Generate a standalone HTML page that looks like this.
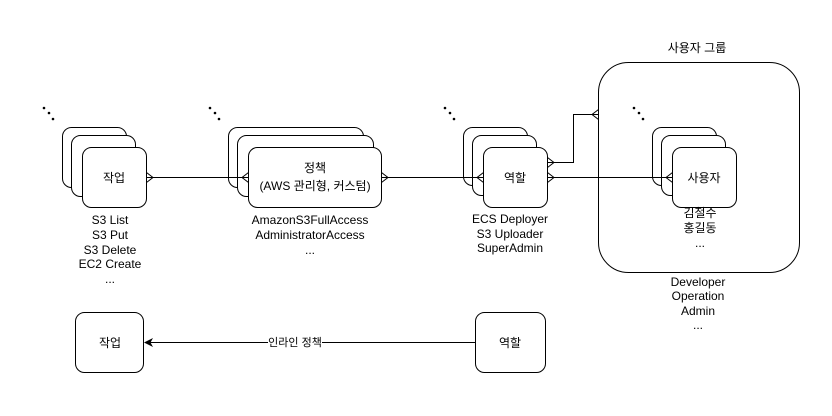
<!DOCTYPE html>
<html><head><meta charset="utf-8"><style>
html,body{margin:0;padding:0;background:#fff;}
svg{display:block;}
text{font-family:"Liberation Sans","Noto Sans CJK KR",sans-serif;font-size:12px;fill:#000;}
</style></head><body>
<svg width="832" height="416" viewBox="0 0 832 416" xmlns="http://www.w3.org/2000/svg">
<g fill="#fff" stroke="#000" stroke-width="1">
<rect x="598.5" y="62.5" width="201" height="210" rx="30"/>
<rect x="62.5" y="127.5" width="64" height="60" rx="9"/>
<rect x="71.5" y="135.5" width="64" height="61" rx="9"/>
<rect x="82.5" y="147.5" width="64" height="60" rx="9"/>
<rect x="228.5" y="127.5" width="135" height="60" rx="9"/>
<rect x="237.5" y="135.5" width="136" height="61" rx="9"/>
<rect x="248.5" y="147.5" width="133" height="60" rx="9"/>
<rect x="463.5" y="127.5" width="64" height="58" rx="9"/>
<rect x="472.5" y="135.5" width="64" height="60" rx="9"/>
<rect x="483.5" y="147.5" width="64" height="60" rx="9"/>
<rect x="652.5" y="127.5" width="64" height="58" rx="9"/>
<rect x="661.5" y="135.5" width="64" height="60" rx="9"/>
<rect x="672.5" y="147.5" width="64" height="60" rx="9"/>
<rect x="75.5" y="312.5" width="68" height="60" rx="9"/>
<rect x="475.5" y="312.5" width="70" height="60" rx="9"/>
</g>
<g fill="none" stroke="#000" stroke-width="1">
<path d="M146.5 177.5H248.5"/>
<path d="M146.5 172.5L153 177.5L146.5 182.5"/>
<path d="M248.5 172.5L242 177.5L248.5 182.5"/>
<path d="M381.5 177.5H483.5"/>
<path d="M381.5 172.5L388 177.5L381.5 182.5"/>
<path d="M483.5 172.5L477 177.5L483.5 182.5"/>
<path d="M547.5 177.5H672.5"/>
<path d="M547.5 172.5L554 177.5L547.5 182.5"/>
<path d="M672.5 172.5L666 177.5L672.5 182.5"/>
<path d="M547.5 162.5H573.5V114.5H598.5"/>
<path d="M547.5 157.5L554 162.5L547.5 167.5"/>
<path d="M598.5 109.5L592 114.5L598.5 119.5"/>
<path d="M475.5 342.5H150"/>
</g>
<path d="M144 342.5L153 338L150.5 342.5L153 347Z" fill="#000"/>
<rect x="268" y="335" width="54" height="14" fill="#fff"/>
<text x="295" y="346" text-anchor="middle" style="font-size:11px">인라인 정책</text>
<g fill="#000">
<circle cx="44" cy="108" r="1.3"/><circle cx="49" cy="113" r="1.3"/><circle cx="53" cy="119" r="1.3"/>
<circle cx="210" cy="108" r="1.3"/><circle cx="215" cy="113" r="1.3"/><circle cx="219" cy="119" r="1.3"/>
<circle cx="445" cy="108" r="1.3"/><circle cx="450" cy="113" r="1.3"/><circle cx="454" cy="119" r="1.3"/>
<circle cx="634" cy="108" r="1.3"/><circle cx="639" cy="113" r="1.3"/><circle cx="643" cy="119" r="1.3"/>
</g>
<g text-anchor="middle">
<text x="114" y="182">작업</text>
<text x="315" y="172">정책</text>
<text x="315" y="190">(AWS 관리형, 커스텀)</text>
<text x="515" y="182">역할</text>
<text x="704" y="182">사용자</text>
<text x="697" y="52">사용자 그룹</text>
<text x="110" y="224">S3 List</text>
<text x="110" y="239">S3 Put</text>
<text x="110" y="254">S3 Delete</text>
<text x="110" y="268">EC2 Create</text>
<text x="110" y="283">...</text>
<text x="310" y="224">AmazonS3FullAccess</text>
<text x="310" y="239">AdministratorAccess</text>
<text x="310" y="254">...</text>
<text x="510" y="223">ECS Deployer</text>
<text x="510" y="238">S3 Uploader</text>
<text x="510" y="252">SuperAdmin</text>
<text x="700" y="217">김철수</text>
<text x="700" y="232">홍길동</text>
<text x="700" y="247">...</text>
<text x="698" y="286">Developer</text>
<text x="698" y="300">Operation</text>
<text x="698" y="315">Admin</text>
<text x="698" y="329">...</text>
<text x="110" y="347">작업</text>
<text x="510" y="347">역할</text>
</g>
</svg>
</body></html>
